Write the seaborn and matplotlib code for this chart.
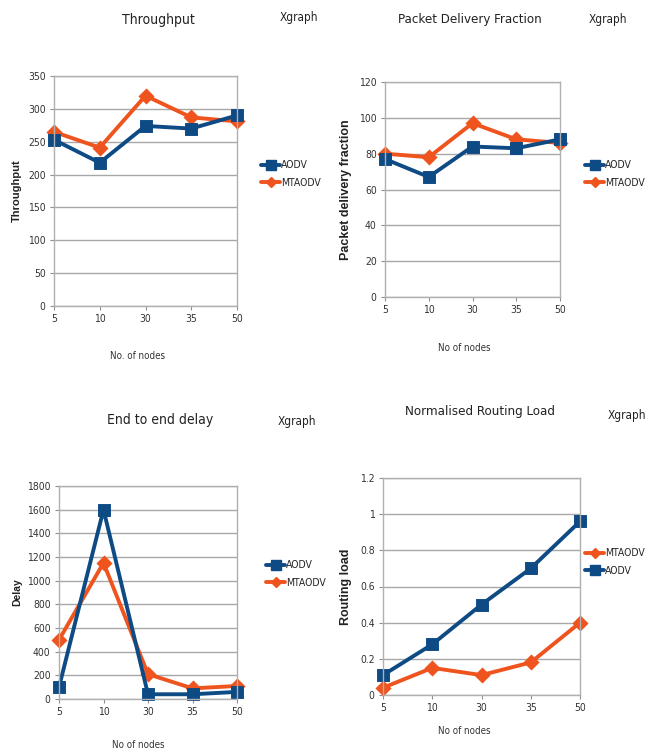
import matplotlib
matplotlib.use("Agg")
import matplotlib.pyplot as plt
from matplotlib import font_manager as fm
import seaborn as sns
import pandas as pd
from matplotlib.lines import Line2D

# Node counts (categorical x axis)
nodes = ["5", "10", "30", "35", "50"]

# Throughput
thr_aodv = [253, 218, 274, 270, 290]
thr_mtaodv = [265, 241, 320, 287, 281]

# Packet delivery fraction
pdf_aodv = [77, 67, 84, 83, 88]
pdf_mtaodv = [80, 78, 97, 88, 86]

# End to end delay
delay_aodv = [100, 1600, 40, 40, 60]
delay_mtaodv = [500, 1150, 210, 90, 110]

# Normalised routing load
nrl_aodv = [0.11, 0.28, 0.50, 0.70, 0.96]
nrl_mtaodv = [0.04, 0.15, 0.11, 0.18, 0.40]

BLUE = "#0e4a84"
ORANGE = "#f0541e"
MARKERS = {"AODV": "s", "MTAODV": "D"}
COLORS = {"AODV": BLUE, "MTAODV": ORANGE}

sns.set_theme(style="white")

# prefer a narrow sans face when one is available
narrow = None
for entry in fm.fontManager.ttflist:
    if entry.weight in (400, "normal", "regular") and entry.style == "normal" and (
            entry.stretch in ("condensed", "semi-condensed", "extra-condensed")
            or "Narrow" in entry.name or "Condensed" in entry.name):
        narrow = entry
        break
if narrow is not None:
    plt.rcParams["font.family"] = [narrow.name, "Liberation Sans", "DejaVu Sans"]
    plt.rcParams["font.stretch"] = narrow.stretch
    SCALE = 1.0
else:
    plt.rcParams["font.family"] = ["Liberation Sans", "DejaVu Sans"]
    SCALE = 0.85

fig = plt.figure(figsize=(6.54, 7.55), dpi=100)
W, H = 654, 755


def px_axes(left, right, top, bottom):
    return fig.add_axes([left / W, 1 - bottom / H, (right - left) / W, (bottom - top) / H])


def panel(ax, aodv, mtaodv, ymax, ystep, ylabel, ylab_size, ylab_x, xlabel, title,
          title_size, title_xy, xg_xy, leg_xy, xlabel_y,
          legend_order=("AODV", "MTAODV"), yfmt=None):
    df = pd.DataFrame({
        "nodes": nodes * 2,
        "value": list(aodv) + list(mtaodv),
        "protocol": ["AODV"] * len(nodes) + ["MTAODV"] * len(nodes),
    })
    # draw the later series first so AODV sits on top where lines cross
    for proto in ("MTAODV", "AODV"):
        sub = df[df["protocol"] == proto]
        sns.pointplot(data=sub, x="nodes", y="value", order=nodes, color=COLORS[proto],
                      marker=MARKERS[proto], markersize=7.5 if proto == "AODV" else 6.5,
                      linewidth=2.8, errorbar=None, ax=ax)
    for ln in ax.lines:
        ln.set_clip_on(False)
    ax.set_xlim(0, len(nodes) - 1)
    ax.set_ylim(0, ymax)
    ticks = [i * ystep for i in range(int(round(ymax / ystep)) + 1)]
    ax.set_yticks(ticks)
    if yfmt:
        ax.set_yticklabels([yfmt(t) for t in ticks])
    ax.yaxis.grid(True, color="#a8a8a8", linewidth=1.0)
    ax.set_axisbelow(True)
    for side, sp in ax.spines.items():
        sp.set_visible(True)
        sp.set_color("#b0b0b0")
        sp.set_linewidth(1.0)
    ax.tick_params(axis="both", which="both", length=3, width=0.8, color="#909090",
                   labelsize=7.5 * SCALE, labelcolor="#333333", pad=3, left=True, bottom=True)
    ax.set_xlabel("")
    ax.set_ylabel(ylabel, fontsize=ylab_size, fontweight="bold", color="#222222",
                  family=["Liberation Sans", "DejaVu Sans"], fontstretch="normal")
    ax.yaxis.set_label_coords(ylab_x, 0.5)
    fig.text(xlabel_y[0] / W, 1 - xlabel_y[1] / H, xlabel, fontsize=7 * SCALE,
             color="#333333", ha="center", va="center")
    fig.text(title_xy[0] / W, 1 - title_xy[1] / H, title, fontsize=title_size * SCALE,
             color="#222222", ha="center", va="center")
    fig.text(xg_xy[0] / W, 1 - xg_xy[1] / H, "Xgraph", fontsize=8.5 * SCALE,
             color="#222222", ha="center", va="center")
    handles = [Line2D([0], [0], color=COLORS[p], marker=MARKERS[p], linewidth=2.8,
                      markersize=6.5 if p == "AODV" else 5.5) for p in legend_order]
    fig.legend(handles, list(legend_order), loc="center left", frameon=False,
               bbox_to_anchor=(leg_xy[0] / W, 1 - leg_xy[1] / H), fontsize=7.5 * SCALE,
               handlelength=1.8, handletextpad=0.1, labelspacing=0.7, borderpad=0)


ax1 = px_axes(54, 237, 76, 306)
panel(ax1, thr_aodv, thr_mtaodv, 350, 50, "Throughput", 8, -0.175, "No. of nodes",
      "Throughput", 10, (158, 20), (299, 18), (256, 174), (138, 356))

ax2 = px_axes(385, 560, 82, 297)
panel(ax2, pdf_aodv, pdf_mtaodv, 120, 20, "Packet delivery fraction", 9, -0.189,
      "No of nodes", "Packet Delivery Fraction", 9.5, (470, 20), (608, 20), (580, 174),
      (464, 348))

ax3 = px_axes(59, 237, 486, 699)
panel(ax3, delay_aodv, delay_mtaodv, 1800, 200, "Delay", 7.5, -0.208, "No of nodes",
      "End to end delay", 10, (160, 420), (297, 421), (261, 574), (138, 745))

ax4 = px_axes(383, 580, 478, 695)
panel(ax4, nrl_aodv, nrl_mtaodv, 1.2, 0.2, "Routing load", 9, -0.157, "No of nodes",
      "Normalised Routing Load", 9.5, (480, 412), (627, 416), (580, 562), (464, 731),
      legend_order=("MTAODV", "AODV"), yfmt=lambda t: f"{t:g}")

fig.savefig("out.png", dpi=100, facecolor="white")
